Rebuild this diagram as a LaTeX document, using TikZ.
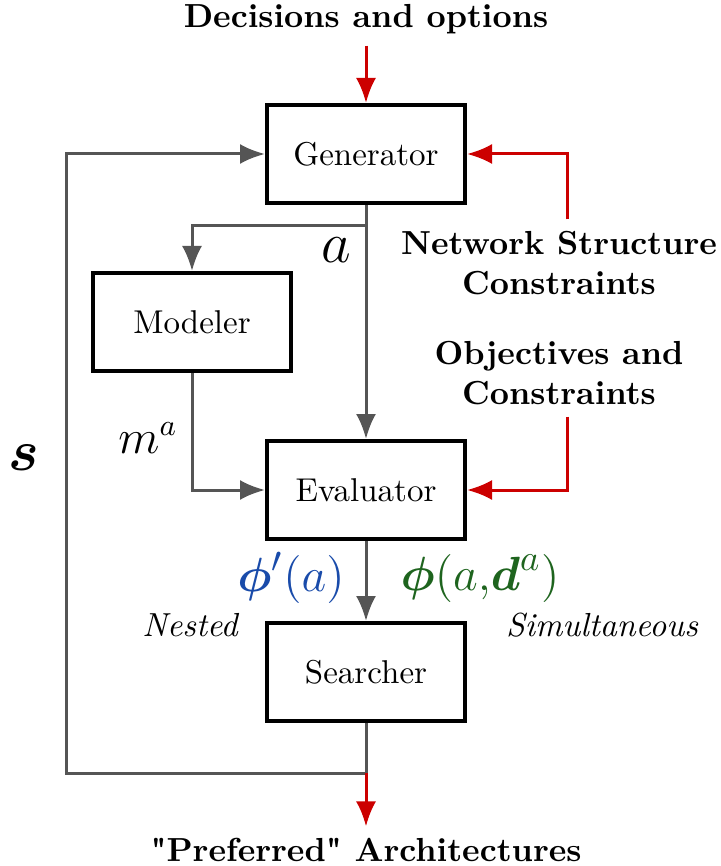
\documentclass[tikz,border=0pt]{standalone}
\usepackage{amsmath}
\usetikzlibrary{arrows.meta}
\definecolor{flowgray}{RGB}{85,85,85}
\definecolor{inred}{RGB}{204,0,0}
\definecolor{nestblue}{RGB}{25,75,170}
\definecolor{simgreen}{RGB}{30,100,30}
\begin{document}
\begin{tikzpicture}[x=0.3pt, y=-0.3pt,
  block/.style={draw, line width=1.2pt, minimum width=59.4pt, minimum height=29.4pt, font=\fontsize{9.9}{12}\selectfont},
  flow/.style={draw=flowgray, line width=0.9pt, -{Latex[length=7.5pt,width=6pt]}},
  feed/.style={draw=inred, line width=0.9pt, -{Latex[length=7.5pt,width=6pt]}},
  heading/.style={font=\fontsize{10}{12}\selectfont\bfseries, align=center},
  sym/.style={font=\fontsize{13.5}{16}\selectfont},
  mode/.style={font=\fontsize{10}{12}\selectfont\itshape}]
  \useasboundingbox (0,0) rectangle (720,866);
  \node (gen)    at (366,154) [block] {Generator};
  \node (mod)    at (192,322) [block] {Modeler};
  \node (eval)   at (366,490) [block] {Evaluator};
  \node (search) at (366,672) [block] {Searcher};
  \node (dec)  at (366,19)  [heading] {Decisions and options};
  \node (nsc)  at (559,263) [heading] {Network Structure\\Constraints};
  \node (obj)  at (559,373) [heading] {Objectives and\\Constraints};
  \node (pref) at (366,850) [heading] {\textquotedbl Preferred\textquotedbl{} Architectures};
  \coordinate (split)  at (366,226);
  \coordinate (bottom) at (366,773);
  \coordinate (corner) at (66,773);
  \draw [flow] (gen) -- (eval);
  \draw [flow] (split) -| (mod);
  \draw [flow] (mod) |- (eval);
  \draw [flow] (eval) -- (search);
  \draw [flow] (search) -- (bottom) -- (corner) |- (gen);
  \draw [feed] (dec) -- (gen);
  \draw [feed] ([xshift=2.4pt]nsc.north) |- (gen);
  \draw [feed] ([xshift=2.4pt]obj.south) |- (eval);
  \draw [feed] (bottom) -- (pref);
  \node (alab) at (336,250) [sym, font=\fontsize{16}{19}\selectfont] {$a$};
  \node (mlab) at (148,438) [sym] {$m^a$};
  \node (slab) at (24,458)  [sym, font=\fontsize{16}{19}\selectfont] {$\boldsymbol{s}$};
  \node (nlab) at (291,578) [sym, font=\fontsize{15}{18}\selectfont, text=nestblue] {$\boldsymbol{\phi}'(a)$};
  \node (glab) at (480,578) [sym, font=\fontsize{15}{18}\selectfont, text=simgreen] {$\boldsymbol{\phi}(a{,}\boldsymbol{d}^a)$};
  \node (nest) at (190,625) [mode] {Nested};
  \node (simu) at (602,625) [mode] {Simultaneous};
\end{tikzpicture}
\end{document}
